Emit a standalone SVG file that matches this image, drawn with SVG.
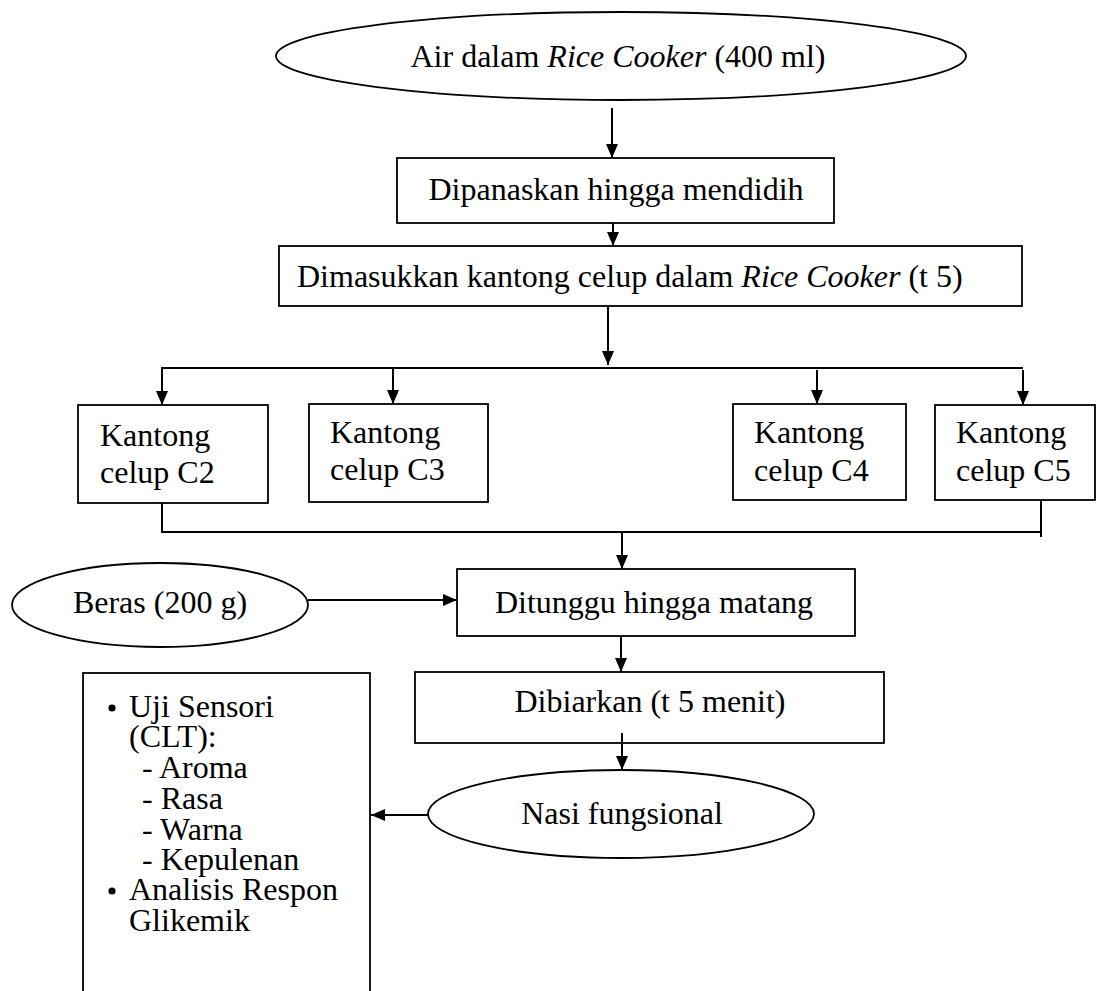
<svg xmlns="http://www.w3.org/2000/svg" width="1100" height="991" viewBox="0 0 1100 991">
<style>
.s{fill:none;stroke:#000;stroke-width:1.8}
.c{fill:none;stroke:#000;stroke-width:2}
.t{font-family:"Liberation Serif","Times New Roman",serif;font-size:32px;fill:#000}
.m{text-anchor:middle}
.i{font-style:italic}
</style>
<defs>
<marker id="ah" markerUnits="userSpaceOnUse" markerWidth="14" markerHeight="12" refX="14" refY="6" orient="auto">
<path d="M0,0 L14,6 L0,12 z" fill="#000"/>
</marker>
</defs>
<rect width="1100" height="991" fill="#fff"/>
<g id="n-air">
<ellipse class="s" cx="621" cy="56" rx="345" ry="44"/>
<text class="t m" x="618" y="67">Air dalam <tspan class="i">Rice Cooker</tspan> (400 ml)</text>
</g>
<g id="n-dipanaskan">
<rect class="s" x="397" y="158" width="437" height="65"/>
<text class="t m" x="616" y="200">Dipanaskan hingga mendidih</text>
</g>
<g id="n-dimasukkan">
<rect class="s" x="279" y="246" width="743" height="60"/>
<text class="t" x="297" y="287">Dimasukkan kantong celup dalam <tspan class="i">Rice Cooker</tspan> (t 5)</text>
</g>
<g id="n-c2">
<rect class="s" x="78" y="405" width="190" height="98"/>
<text class="t" x="100" y="446">Kantong</text>
<text class="t" x="100" y="483">celup C2</text>
</g>
<g id="n-c3">
<rect class="s" x="309" y="404" width="179" height="98"/>
<text class="t" x="330" y="443">Kantong</text>
<text class="t" x="330" y="480">celup C3</text>
</g>
<g id="n-c4">
<rect class="s" x="733" y="404" width="173" height="96"/>
<text class="t" x="754" y="443">Kantong</text>
<text class="t" x="754" y="481">celup C4</text>
</g>
<g id="n-c5">
<rect class="s" x="935" y="405" width="160" height="95"/>
<text class="t" x="956" y="443">Kantong</text>
<text class="t" x="956" y="481">celup C5</text>
</g>
<g id="n-beras">
<ellipse class="s" cx="160" cy="605" rx="148" ry="42"/>
<text class="t m" x="160" y="613">Beras (200 g)</text>
</g>
<g id="n-ditunggu">
<rect class="s" x="457" y="569" width="398" height="67"/>
<text class="t m" x="654" y="613">Ditunggu hingga matang</text>
</g>
<g id="n-dibiarkan">
<rect class="s" x="415" y="672" width="469" height="71"/>
<text class="t m" x="650" y="712">Dibiarkan (t 5 menit)</text>
</g>
<g id="n-nasi">
<ellipse class="s" cx="621" cy="814" rx="193" ry="44"/>
<text class="t m" x="622" y="824">Nasi fungsional</text>
</g>
<g id="n-uji">
<rect class="s" x="83" y="673" width="287" height="340"/>
<circle cx="112" cy="708" r="3.6" fill="#000"/>
<circle cx="112" cy="891" r="3.6" fill="#000"/>
<text class="t" x="129" y="717">Uji Sensori</text>
<text class="t" x="129" y="747">(CLT):</text>
<text class="t" x="142" y="778">- Aroma</text>
<text class="t" x="142" y="809">- Rasa</text>
<text class="t" x="142" y="840">- Warna</text>
<text class="t" x="142" y="870">- Kepulenan</text>
<text class="t" x="129" y="900">Analisis Respon</text>
<text class="t" x="129" y="931">Glikemik</text>
</g>
<g id="connectors">
<path class="c" d="M612,108 V158" marker-end="url(#ah)"/>
<path class="c" d="M613,223 V246" marker-end="url(#ah)"/>
<path class="c" d="M608,306 V365" marker-end="url(#ah)"/>
<path class="c" d="M161,368 H1023"/>
<path class="c" d="M162,367 V405" marker-end="url(#ah)"/>
<path class="c" d="M393,368 V404" marker-end="url(#ah)"/>
<path class="c" d="M817,370 V404" marker-end="url(#ah)"/>
<path class="c" d="M1023,370 V405" marker-end="url(#ah)"/>
<path class="c" d="M162,503 V532 H1041"/>
<path class="c" d="M1041,500 V537"/>
<path class="c" d="M622,532 V569" marker-end="url(#ah)"/>
<path class="c" d="M308,600 H457" marker-end="url(#ah)"/>
<path class="c" d="M621,636 V672" marker-end="url(#ah)"/>
<path class="c" d="M622,733 V770" marker-end="url(#ah)"/>
<path class="c" d="M428,815 H371" marker-end="url(#ah)"/>
</g>
</svg>
